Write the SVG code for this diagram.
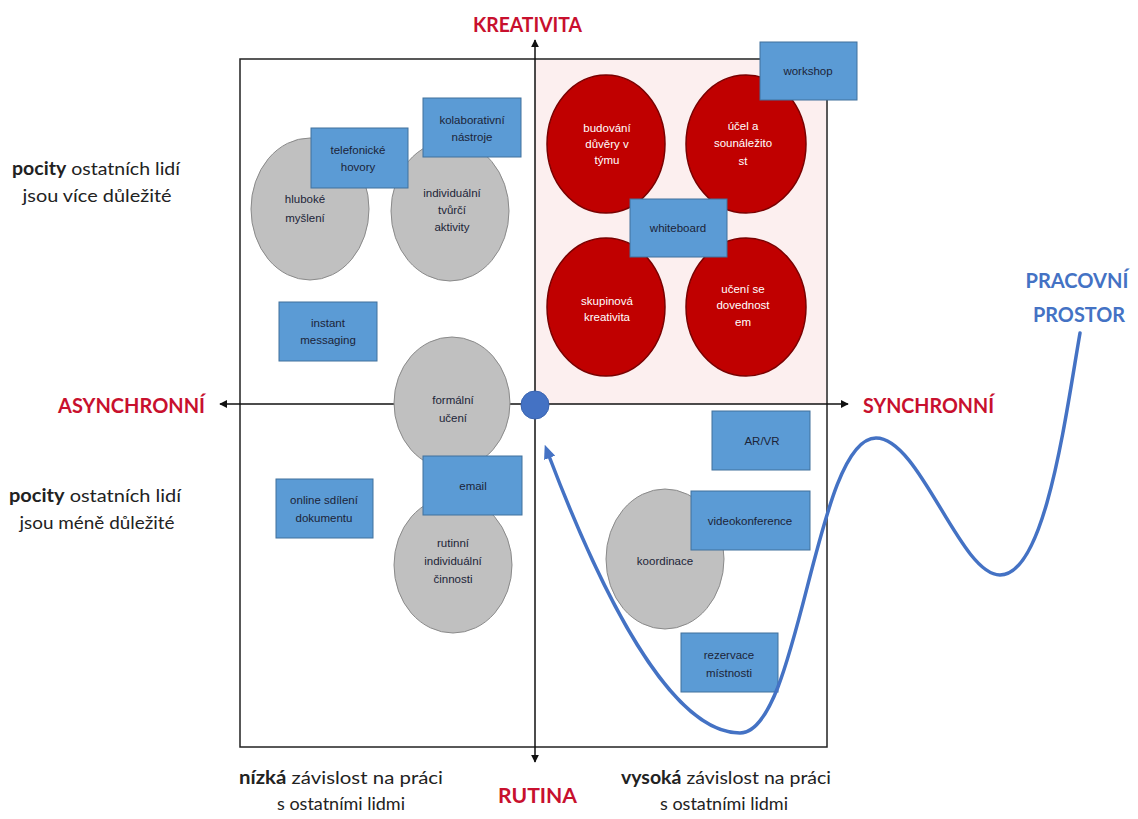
<svg xmlns="http://www.w3.org/2000/svg" width="1138" height="819" viewBox="0 0 1138 819">
<style>
.lbl{font-family:"Liberation Sans",Arial,sans-serif;font-size:11.5px;fill:#1c2438;text-anchor:middle}
.wl{font-family:"Liberation Sans",Arial,sans-serif;font-size:11.5px;fill:#ffffff;text-anchor:middle}
.box{fill:#5b9bd5;stroke:#41719c;stroke-width:1}
.gray{fill:#c0c0c0;stroke:#8a8a8a;stroke-width:1}
.red{fill:#c00000;stroke:#7a0000;stroke-width:1.5}
.axis{font-family:Lato,"Liberation Sans",sans-serif;font-weight:bold;font-size:21px;fill:#c8102e}
.side{font-family:Lato,"Liberation Sans",sans-serif;font-size:18px;fill:#222222;text-anchor:middle}
.ax{stroke:#111111;stroke-width:1.5;fill:none}
</style>
<defs>
<marker id="ah" viewBox="0 0 10 10" refX="9" refY="5" markerWidth="8" markerHeight="8" markerUnits="userSpaceOnUse" orient="auto-start-reverse">
<path d="M0,0 L10,5 L0,10 z" fill="#111111"/>
</marker>
<marker id="bh" viewBox="0 0 14 12" refX="2" refY="6" markerWidth="14" markerHeight="12" markerUnits="userSpaceOnUse" orient="auto-start-reverse">
<path d="M0,0 L14,6 L0,12 z" fill="#4472c4"/>
</marker>
</defs>
<rect width="1138" height="819" fill="#ffffff"/>
<g id="frame">
<rect x="240" y="59" width="587" height="688" fill="#ffffff" stroke="#222222" stroke-width="1.5"/>
<rect x="535" y="60" width="291" height="344" fill="#fcefef"/>
</g>
<g id="connectors">
<line class="ax" x1="535" y1="762" x2="535" y2="40" marker-start="url(#ah)" marker-end="url(#ah)"/>
<line class="ax" x1="220" y1="404" x2="848" y2="404" marker-start="url(#ah)" marker-end="url(#ah)"/>
</g>
<g id="labels">
<text class="axis" x="473" y="32" textLength="109" lengthAdjust="spacingAndGlyphs">KREATIVITA</text>
<text class="axis" x="58" y="413" textLength="147" lengthAdjust="spacingAndGlyphs">ASYNCHRONNÍ</text>
<text class="axis" x="863" y="413" textLength="131" lengthAdjust="spacingAndGlyphs">SYNCHRONNÍ</text>
<text class="axis" x="498" y="803" textLength="79" lengthAdjust="spacingAndGlyphs">RUTINA</text>
<text class="axis" x="1077" y="288" text-anchor="middle" style="fill:#4472c4" textLength="103" lengthAdjust="spacingAndGlyphs">PRACOVNÍ</text>
<text class="axis" x="1079" y="322" text-anchor="middle" style="fill:#4472c4" textLength="92" lengthAdjust="spacingAndGlyphs">PROSTOR</text>
<text class="side" x="96" y="175" textLength="168" lengthAdjust="spacingAndGlyphs"><tspan font-weight="bold">pocity</tspan> ostatních lidí</text>
<text class="side" x="97" y="202" textLength="149" lengthAdjust="spacingAndGlyphs">jsou více důležité</text>
<text class="side" x="95" y="502" textLength="172" lengthAdjust="spacingAndGlyphs"><tspan font-weight="bold">pocity</tspan> ostatních lidí</text>
<text class="side" x="97" y="529" textLength="155" lengthAdjust="spacingAndGlyphs">jsou méně důležité</text>
<text class="side" x="341" y="784" textLength="204" lengthAdjust="spacingAndGlyphs"><tspan font-weight="bold">nízká</tspan> závislost na práci</text>
<text class="side" x="341" y="810">s ostatními lidmi</text>
<text class="side" x="726" y="784" textLength="210" lengthAdjust="spacingAndGlyphs"><tspan font-weight="bold">vysoká</tspan> závislost na práci</text>
<text class="side" x="724" y="810">s ostatními lidmi</text>
</g>
<g id="hluboke-mysleni">
<ellipse class="gray" cx="310" cy="209" rx="59" ry="71"/>
<text class="lbl" x="305" y="203">hluboké</text>
<text class="lbl" x="305" y="222">myšlení</text>
</g>
<g id="individualni-tvurci">
<ellipse class="gray" cx="450" cy="211" rx="59" ry="70"/>
<text class="lbl" x="452" y="197">individuální</text>
<text class="lbl" x="452" y="214">tvůrčí</text>
<text class="lbl" x="452" y="231">aktivity</text>
</g>
<g id="telefonicke-hovory">
<rect class="box" x="311" y="128" width="97" height="60"/>
<text class="lbl" x="358" y="154">telefonické</text>
<text class="lbl" x="358" y="171">hovory</text>
</g>
<g id="kolaborativni-nastroje">
<rect class="box" x="423" y="98" width="98" height="59"/>
<text class="lbl" x="472" y="124">kolaborativní</text>
<text class="lbl" x="472" y="141">nástroje</text>
</g>
<g id="instant-messaging">
<rect class="box" x="279" y="302" width="98" height="59"/>
<text class="lbl" x="328" y="327">instant</text>
<text class="lbl" x="328" y="344">messaging</text>
</g>
<g id="formalni-uceni">
<ellipse class="gray" cx="452" cy="403" rx="58" ry="66"/>
<text class="lbl" x="453" y="404">formální</text>
<text class="lbl" x="453" y="422">učení</text>
</g>
<g id="rutinni-cinnosti">
<ellipse class="gray" cx="453" cy="565" rx="59" ry="68"/>
<text class="lbl" x="453" y="547">rutinní</text>
<text class="lbl" x="453" y="565">individuální</text>
<text class="lbl" x="453" y="583">činnosti</text>
</g>
<g id="email">
<rect class="box" x="423" y="456" width="99" height="59"/>
<text class="lbl" x="473" y="490">email</text>
</g>
<g id="online-sdileni">
<rect class="box" x="276" y="479" width="97" height="59"/>
<text class="lbl" x="324" y="504">online sdílení</text>
<text class="lbl" x="324" y="522">dokumentu</text>
</g>
<g id="budovani-duvery">
<ellipse class="red" cx="606" cy="144" rx="59" ry="69"/>
<text class="wl" x="607" y="132">budování</text>
<text class="wl" x="607" y="148">důvěry v</text>
<text class="wl" x="607" y="164">týmu</text>
</g>
<g id="ucel-sounalezitost">
<ellipse class="red" cx="746" cy="144" rx="60" ry="69"/>
<text class="wl" x="743" y="130">účel a</text>
<text class="wl" x="743" y="147">sounáležito</text>
<text class="wl" x="743" y="165">st</text>
</g>
<g id="skupinova-kreativita">
<ellipse class="red" cx="606" cy="307" rx="59" ry="69"/>
<text class="wl" x="607" y="305">skupinová</text>
<text class="wl" x="607" y="321">kreativita</text>
</g>
<g id="uceni-dovednostem">
<ellipse class="red" cx="746" cy="307" rx="60" ry="69"/>
<text class="wl" x="743" y="293">učení se</text>
<text class="wl" x="743" y="309">dovednost</text>
<text class="wl" x="743" y="326">em</text>
</g>
<g id="whiteboard">
<rect class="box" x="630" y="199" width="97" height="58"/>
<text class="lbl" x="678" y="232">whiteboard</text>
</g>
<g id="workshop">
<rect class="box" x="760" y="42" width="97" height="58"/>
<text class="lbl" x="808" y="75">workshop</text>
</g>
<g id="ar-vr">
<rect class="box" x="712" y="411" width="98" height="59"/>
<text class="lbl" x="762" y="445">AR/VR</text>
</g>
<g id="koordinace">
<ellipse class="gray" cx="665" cy="559" rx="59" ry="70"/>
<text class="lbl" x="665" y="565">koordinace</text>
</g>
<g id="videokonference">
<rect class="box" x="691" y="491" width="119" height="59"/>
<text class="lbl" x="750" y="525">videokonference</text>
</g>
<g id="rezervace-mistnosti">
<rect class="box" x="681" y="633" width="97" height="59"/>
<text class="lbl" x="729" y="659">rezervace</text>
<text class="lbl" x="729" y="677">místnosti</text>
</g>
<g id="pracovni-prostor-curve">
<path d="M549,456 C600,590 670,733 740,733 C800,733 815,438 876,438 C920,438 960,575 1000,575 C1045,575 1065,420 1080,333" fill="none" stroke="#4472c4" stroke-width="3.5" stroke-linecap="round" marker-start="url(#bh)"/>
</g>
<g id="origin">
<circle cx="535" cy="405" r="14" fill="#4472c4" stroke="#3a64b0" stroke-width="1"/>
</g>
</svg>
